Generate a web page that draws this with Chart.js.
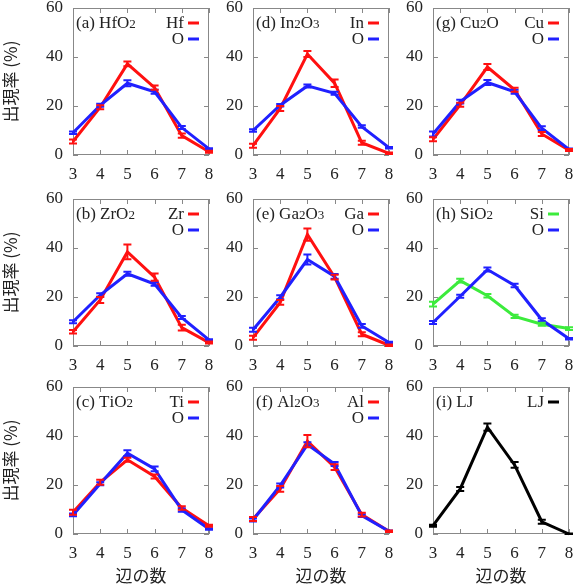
<!DOCTYPE html>
<html>
<head>
<meta charset="utf-8">
<script src="https://cdn.jsdelivr.net/npm/chart.js@4.4.0/dist/chart.umd.min.js"></script>
<style>
  body { margin: 0; background: #fff; width: 577px; height: 585px; overflow: hidden; position: relative; }
  canvas { position: absolute; }
</style>
</head>
<body>
<script>
// 辺の数 (x categories) and y ticks
const sides = [3, 4, 5, 6, 7, 8];
const yTicks = [0, 20, 40, 60];

// (a) HfO2
const hfMetal = [5.5, 19.5, 37.2, 27.5, 7.9, 1.3];
const hfMetalErr = [0.8, 0.8, 1.0, 0.9, 0.9, 0.4];
const hfO = [9.1, 20.3, 29.3, 25.8, 11.2, 2.5];
const hfOErr = [0.5, 0.6, 1.2, 0.8, 0.6, 0.3];
// (d) In2O3
const inMetal = [3.8, 19.0, 41.2, 29.3, 5.0, 0.7];
const inMetalErr = [0.8, 1.0, 1.2, 1.5, 0.8, 0.3];
const inO = [10.0, 20.3, 28.2, 25.2, 11.6, 3.0];
const inOErr = [0.5, 0.5, 0.6, 0.6, 0.5, 0.3];
// (g) Cu2O
const cuMetal = [6.4, 20.5, 35.9, 26.6, 8.6, 2.0];
const cuMetalErr = [0.8, 0.8, 1.2, 0.8, 0.8, 0.4];
const cuO = [8.6, 21.8, 29.6, 25.8, 10.9, 2.3];
const cuOErr = [1.0, 0.8, 1.0, 0.8, 0.8, 0.4];
// (b) ZrO2
const zrMetal = [5.8, 18.8, 38.4, 28.1, 7.5, 1.4];
const zrMetalErr = [0.7, 1.2, 3.0, 1.5, 1.2, 0.4];
const zrO = [9.9, 20.8, 29.5, 25.3, 11.6, 2.5];
const zrOErr = [0.6, 0.7, 0.8, 0.7, 0.6, 0.3];
// (e) Ga2O3
const gaMetal = [3.4, 17.8, 45.5, 28.1, 4.8, 0.3];
const gaMetalErr = [0.8, 1.0, 2.5, 1.0, 0.8, 0.3];
const gaO = [6.6, 19.9, 35.3, 28.4, 8.2, 1.4];
const gaOErr = [0.8, 0.8, 2.0, 1.0, 0.8, 0.3];
// (h) SiO2
const siMetal = [17.1, 26.7, 20.5, 12.1, 8.9, 7.1];
const siMetalErr = [1.0, 0.8, 0.7, 0.7, 0.6, 0.6];
const siO = [9.6, 20.3, 31.2, 24.7, 10.7, 3.0];
const siOErr = [0.6, 0.6, 0.8, 0.7, 0.6, 0.3];
// (c) TiO2
const tiMetal = [8.9, 21.1, 30.3, 23.5, 10.6, 3.4];
const tiMetalErr = [1.0, 1.0, 0.8, 0.8, 0.7, 0.4];
const tiO = [7.8, 20.5, 33.0, 26.6, 9.8, 2.0];
const tiOErr = [0.6, 0.6, 1.2, 1.0, 0.7, 0.3];
// (f) Al2O3
const alMetal = [6.1, 18.4, 37.9, 27.3, 7.9, 1.1];
const alMetalErr = [0.8, 1.2, 2.5, 1.2, 0.8, 0.3];
const alO = [5.7, 19.8, 36.5, 28.6, 7.5, 1.1];
const alOErr = [0.6, 0.8, 1.0, 0.8, 0.6, 0.3];
// (i) LJ
const ljVals = [3.4, 18.4, 43.6, 28.2, 5.0, 0.0];
const ljErr = [0.4, 0.8, 1.5, 1.2, 0.8, 0.2];

const RED = 'rgb(255,16,16)', BLUE = 'rgb(32,32,255)', GREEN = 'rgb(60,235,60)', BLACK = '#000';

const panels = [
  { title: '(a) HfO2', row: 0, col: 0, series: [['Hf', hfMetal, hfMetalErr, RED], ['O', hfO, hfOErr, BLUE]] },
  { title: '(d) In2O3', row: 0, col: 1, series: [['In', inMetal, inMetalErr, RED], ['O', inO, inOErr, BLUE]] },
  { title: '(g) Cu2O', row: 0, col: 2, series: [['Cu', cuMetal, cuMetalErr, RED], ['O', cuO, cuOErr, BLUE]] },
  { title: '(b) ZrO2', row: 1, col: 0, series: [['Zr', zrMetal, zrMetalErr, RED], ['O', zrO, zrOErr, BLUE]] },
  { title: '(e) Ga2O3', row: 1, col: 1, series: [['Ga', gaMetal, gaMetalErr, RED], ['O', gaO, gaOErr, BLUE]] },
  { title: '(h) SiO2', row: 1, col: 2, series: [['Si', siMetal, siMetalErr, GREEN], ['O', siO, siOErr, BLUE]] },
  { title: '(c) TiO2', row: 2, col: 0, series: [['Ti', tiMetal, tiMetalErr, RED], ['O', tiO, tiOErr, BLUE]] },
  { title: '(f) Al2O3', row: 2, col: 1, series: [['Al', alMetal, alMetalErr, RED], ['O', alO, alOErr, BLUE]] },
  { title: '(i) LJ', row: 2, col: 2, series: [['LJ', ljVals, ljErr, BLACK]] }
];

const colLeft = [0, 180, 360];
const plotTop = [8, 199, 387];
const PLOT_H = 147;
const SERIF = '"Liberation Serif", "DejaVu Serif", serif';
const JP = '"Noto Sans CJK JP", sans-serif';

// draw text where digits after the label become small (chemical formula)
function drawFormula(ctx, str, x, y) {
  ctx.textAlign = 'left';
  ctx.textBaseline = 'alphabetic';
  let inFormula = false;
  for (const ch of str) {
    if (/[0-9]/.test(ch) && inFormula) {
      ctx.font = '13px ' + SERIF;
    } else {
      ctx.font = '17px ' + SERIF;
    }
    ctx.fillText(ch, x, y);
    x += ctx.measureText(ch).width;
    if (ch === ' ') inFormula = true;
  }
}

const framePlugin = {
  id: 'frame',
  beforeDatasetsDraw(chart) {
    const { ctx, chartArea: a, scales } = chart;
    ctx.save();
    ctx.strokeStyle = '#888';
    ctx.lineWidth = 1;
    ctx.strokeRect(a.left + 0.5, a.top + 0.5, a.width - 1, a.height - 1);
    ctx.beginPath();
    const tl = 5;
    sides.forEach((s, i) => {
      const x = Math.round(scales.x.getPixelForValue(i)) + 0.5;
      ctx.moveTo(x, a.bottom); ctx.lineTo(x, a.bottom - tl);
      ctx.moveTo(x, a.top); ctx.lineTo(x, a.top + tl);
    });
    yTicks.forEach(v => {
      const y = Math.round(scales.y.getPixelForValue(v)) + 0.5;
      ctx.moveTo(a.left, y); ctx.lineTo(a.left + tl, y);
      ctx.moveTo(a.right, y); ctx.lineTo(a.right - tl, y);
    });
    ctx.stroke();
    ctx.restore();
  },
  afterDatasetsDraw(chart) {
    const { ctx, chartArea: a, scales } = chart;
    const p = chart.options.plugins.frame;
    ctx.save();
    // error bars
    chart.data.datasets.slice().reverse().forEach(ds => {
      ctx.strokeStyle = ds.borderColor;
      ctx.lineWidth = 2;
      ctx.beginPath();
      ds.data.forEach((v, i) => {
        const x = scales.x.getPixelForValue(i);
        const y1 = scales.y.getPixelForValue(Math.max(0, v - ds.err[i]));
        const y2 = scales.y.getPixelForValue(v + ds.err[i]);
        ctx.moveTo(x, y1); ctx.lineTo(x, y2);
        ctx.moveTo(x - 4, y1); ctx.lineTo(x + 4, y1);
        ctx.moveTo(x - 4, y2); ctx.lineTo(x + 4, y2);
      });
      ctx.stroke();
    });
    // title
    ctx.fillStyle = '#222';
    drawFormula(ctx, p.title, a.left + 3, a.top + 20);
    // key
    chart.data.datasets.forEach((ds, i) => {
      const y = a.top + 15 + i * 16;
      ctx.font = '17px ' + SERIF;
      ctx.textAlign = 'right';
      ctx.textBaseline = 'middle';
      ctx.fillStyle = '#222';
      ctx.fillText(ds.label, a.right - 25, y + 1);
      ctx.strokeStyle = ds.borderColor;
      ctx.lineWidth = 3;
      ctx.beginPath();
      ctx.moveTo(a.right - 21, y); ctx.lineTo(a.right - 10, y);
      ctx.stroke();
    });
    ctx.restore();
  }
};

panels.forEach(panel => {
  const canvas = document.createElement('canvas');
  const lastRow = panel.row === 2;
  const xh = lastRow ? 52 : 40;
  const w = 217, h = 8 + PLOT_H + xh;
  canvas.width = w; canvas.height = h;
  canvas.style.left = colLeft[panel.col] + 'px';
  canvas.style.top = (plotTop[panel.row] - 8) + 'px';
  document.body.appendChild(canvas);

  const datasets = panel.series.map((s, i) => ({
    label: s[0],
    data: s[1],
    err: s[2],
    borderColor: s[3],
    backgroundColor: s[3],
    borderWidth: 3,
    pointRadius: 0,
    tension: 0,
    clip: false,
    order: panel.series.length - i
  }));

  new Chart(canvas, {
    type: 'line',
    data: { labels: sides.map(String), datasets: datasets },
    options: {
      responsive: false,
      animation: false,
      devicePixelRatio: 1,
      layout: { padding: { top: 8, right: 8, left: 0, bottom: 0 } },
      plugins: {
        legend: { display: false },
        tooltip: { enabled: false },
        frame: { title: panel.title }
      },
      scales: {
        x: {
          type: 'category',
          offset: false,
          grid: { display: false, drawTicks: false },
          border: { display: false },
          ticks: { color: '#222', font: { family: SERIF, size: 17 }, padding: 9, maxRotation: 0, autoSkip: false },
          title: {
            display: lastRow,
            text: '辺の数',
            color: '#222',
            font: { family: JP, size: 17 },
            padding: { top: 0, bottom: 0 }
          },
          afterFit(scale) {
            scale.height = xh;
            scale.paddingLeft = 0; scale.paddingRight = 0;
          }
        },
        y: {
          min: 0, max: 60,
          grid: { display: false, drawTicks: false },
          border: { display: false },
          ticks: { stepSize: 20, color: '#222', font: { family: SERIF, size: 17 }, padding: 10 },
          title: {
            display: panel.col === 0,
            text: '出現率 (%)',
            color: '#222',
            font: { family: JP, size: 17 },
            padding: { top: 0, bottom: 2 }
          },
          afterFit(scale) {
            scale.width = 73;
            scale.paddingTop = 0; scale.paddingBottom = 0;
          }
        }
      }
    },
    plugins: [framePlugin]
  });
});
</script>
</body>
</html>
